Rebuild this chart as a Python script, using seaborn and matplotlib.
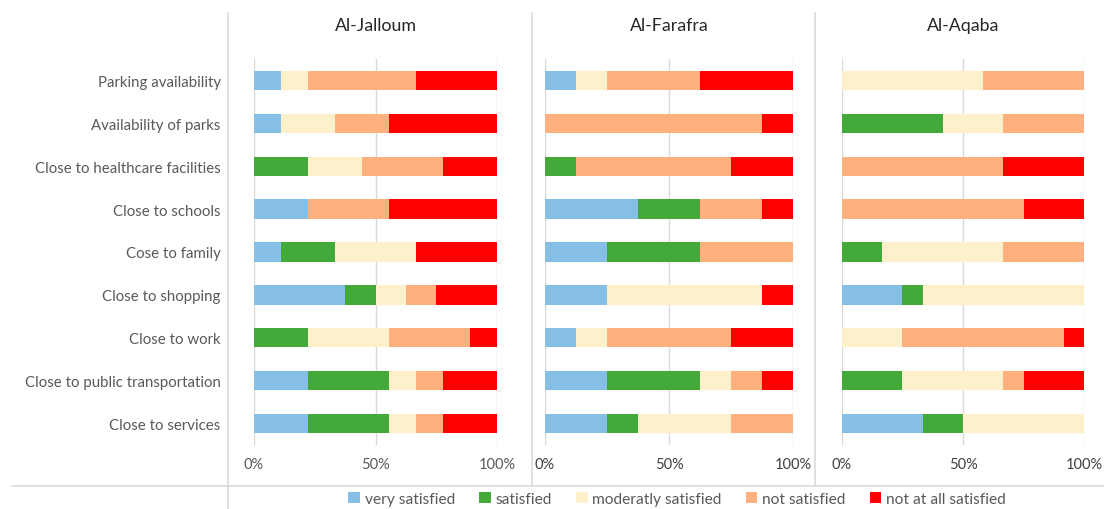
import numpy as np
import pandas as pd
import matplotlib
matplotlib.use("Agg")
import matplotlib.pyplot as plt
from matplotlib.lines import Line2D
from matplotlib.patches import Patch
import seaborn as sns

# categories top to bottom
categories = ["Parking availability", "Availability of parks", "Close to healthcare facilities",
              "Close to schools", "Cose to family", "Close to shopping", "Close to work",
              "Close to public transportation", "Close to services"]
levels = ["very satisfied", "satisfied", "moderatly satisfied", "not satisfied", "not at all satisfied"]
towns = ["Al-Jalloum", "Al-Farafra", "Al-Aqaba"]

# shares in %
jalloum_very = [11.1, 11.1, 0, 22.2, 11.1, 37.5, 0, 22.2, 22.2]
jalloum_sat = [0, 0, 22.2, 0, 22.2, 12.5, 22.2, 33.3, 33.3]
jalloum_mod = [11.1, 22.2, 22.2, 0, 33.3, 12.5, 33.3, 11.1, 11.1]
jalloum_not = [44.4, 22.2, 33.3, 33.3, 0, 12.5, 33.3, 11.1, 11.1]
jalloum_notall = [33.3, 44.4, 22.2, 44.4, 33.3, 25.0, 11.1, 22.2, 22.2]

farafra_very = [12.5, 0, 0, 37.5, 25, 25, 12.5, 25, 25]
farafra_sat = [0, 0, 12.5, 25, 37.5, 0, 0, 37.5, 12.5]
farafra_mod = [12.5, 0, 0, 0, 0, 62.5, 12.5, 12.5, 37.5]
farafra_not = [37.5, 87.5, 62.5, 25, 37.5, 0, 50, 12.5, 25]
farafra_notall = [37.5, 12.5, 25, 12.5, 0, 12.5, 25, 12.5, 0]

aqaba_very = [0, 0, 0, 0, 0, 25, 0, 0, 33.3]
aqaba_sat = [0, 41.7, 0, 0, 16.7, 8.3, 0, 25, 16.7]
aqaba_mod = [58.3, 25, 0, 0, 50, 66.7, 25, 41.7, 50]
aqaba_not = [41.7, 33.3, 66.7, 75, 33.3, 0, 66.7, 8.3, 0]
aqaba_notall = [0, 0, 33.3, 25, 0, 0, 8.3, 25, 0]

colors = ["#86BFE6", "#43AA39", "#FFF0CC", "#FFB07F", "#FF0000"]

town_data = {
    "Al-Jalloum": [jalloum_very, jalloum_sat, jalloum_mod, jalloum_not, jalloum_notall],
    "Al-Farafra": [farafra_very, farafra_sat, farafra_mod, farafra_not, farafra_notall],
    "Al-Aqaba": [aqaba_very, aqaba_sat, aqaba_mod, aqaba_not, aqaba_notall],
}

sns.set_theme(style="white")
plt.rcParams["font.family"] = ["Lato", "DejaVu Sans"]
grey = "#595959"

fig = plt.figure(figsize=(11.04, 5.1), dpi=100)

# axes positions in pixels: (left, right)
panel_px = [(254, 497), (545, 793), (842, 1084)]
top_px, bottom_px = 60, 446
W, H = 1104, 510

for i, town in enumerate(towns):
    l, r = panel_px[i]
    ax = fig.add_axes([l / W, 1 - bottom_px / H, (r - l) / W, (bottom_px - top_px) / H])
    df = pd.DataFrame(np.array(town_data[town]).T / 100.0, columns=levels)
    cum = df[levels].cumsum(axis=1)
    cum["category"] = categories
    # draw from the widest cumulative layer to the narrowest
    for lev, col in reversed(list(zip(levels, colors))):
        sns.barplot(data=cum, x=lev, y="category", orient="h", color=col,
                    saturation=1, width=0.45, ax=ax, linewidth=0)
    ax.set_xlim(0, 1)
    ax.set_ylim(8.5, -0.5)
    ax.set_xticks([0, 0.5, 1])
    ax.set_xticklabels(["0%", "50%", "100%"])
    ax.xaxis.grid(True, color="#D9D9D9", linewidth=1)
    ax.set_axisbelow(True)
    for s in ax.spines.values():
        s.set_visible(False)
    ax.set_xlabel("")
    ax.set_ylabel("")
    tick_col = grey if i == 0 else "#404040"
    ax.tick_params(axis="x", length=0, pad=9, labelsize=10.5, labelcolor=tick_col)
    if i == 0:
        ax.tick_params(axis="y", length=0, pad=24, labelsize=10.8, labelcolor=grey)
    else:
        ax.set_yticklabels([])
        ax.tick_params(axis="y", length=0)
    fig.text((l + r) / 2 / W, 1 - 26 / H, town, ha="center", va="center",
             fontsize=12.8, color="#262626")

# separator lines
line_col = "#D9D9D9"
fig.add_artist(Line2D([228 / W, 228 / W], [1 - 14 / H, 0], color=line_col, lw=1.2))
for xp in [532, 815]:
    fig.add_artist(Line2D([xp / W, xp / W], [1 - 14 / H, 1 - 487 / H], color=line_col, lw=1.2))
fig.add_artist(Line2D([12 / W, 1], [1 - 487 / H, 1 - 487 / H], color=line_col, lw=1.2))

handles = [Patch(facecolor=c, edgecolor="none") for c in colors]
leg = fig.legend(handles, levels, loc="center", bbox_to_anchor=(677 / W, 1 - 500 / H),
                 ncol=5, frameon=False, handlelength=0.75, handleheight=0.75,
                 handletextpad=0.3, columnspacing=1.55, fontsize=11.2)
for t in leg.get_texts():
    t.set_color(grey)

fig.savefig("out.png", dpi=100)
